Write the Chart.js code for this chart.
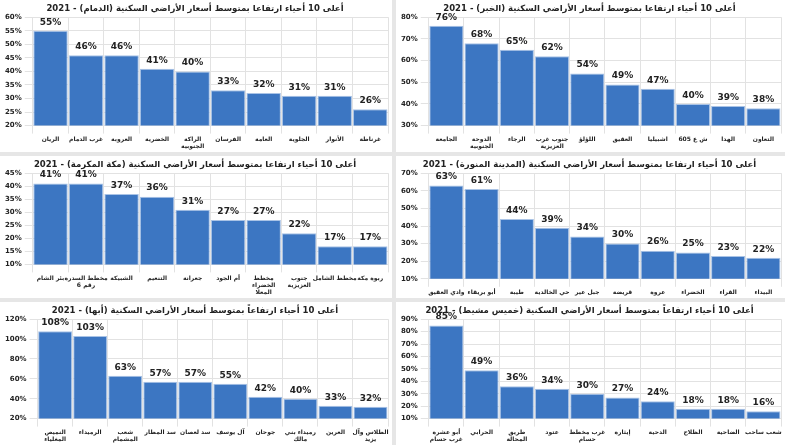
<!DOCTYPE html>
<html>
<head>
<meta charset="utf-8">
<script src="https://cdn.jsdelivr.net/npm/chart.js@4"></script>
<style>
  body { margin: 0; background: #e6e6e6; width: 785px; height: 445px; position: relative; overflow: hidden; }
  .box { position: absolute; background: #fff; }
</style>
</head>
<body>
<div class="box" style="left:0;top:0;width:392px;height:152px"><canvas id="c1"></canvas></div>
<div class="box" style="left:396px;top:0;width:389px;height:152px"><canvas id="c2"></canvas></div>
<div class="box" style="left:0;top:156px;width:392px;height:142px"><canvas id="c3"></canvas></div>
<div class="box" style="left:396px;top:156px;width:389px;height:142px"><canvas id="c4"></canvas></div>
<div class="box" style="left:0;top:302px;width:392px;height:143px"><canvas id="c5"></canvas></div>
<div class="box" style="left:396px;top:302px;width:389px;height:143px"><canvas id="c6"></canvas></div>
<script>
// data for each city
const dammamLabels = ["الريان", "غرب الدمام", "العروبة", "الخضرية", ["الراكة", "الجنوبية"], "الفرسان", "العامة", "الجلوية", "الأنوار", "غرناطة"];
const dammamValues = [55, 46, 46, 41, 40, 33, 32, 31, 31, 26];

const khobarLabels = ["الجامعة", ["الدوحة", "الجنوبية"], "الرجاء", ["جنوب غرب", "العزيزية"], "اللؤلؤ", "العقيق", "اشبيليا", "ش ع 605", "الهدا", "التعاون"];
const khobarValues = [76, 68, 65, 62, 54, 49, 47, 40, 39, 38];

const makkahLabels = ["بئر الشام", ["مخطط السدرة", "رقم 6"], "الشبيكة", "التنعيم", "جعرانة", "أم الجود", ["مخطط", "الخضراء", "المعلا"], ["جنوب", "العزيزية"], "مخطط الشامل", "ربوة مكة"];
const makkahValues = [41, 41, 37, 36, 31, 27, 27, 22, 17, 17];

const madinahLabels = ["وادي العقيق", "أبو بريقاء", "طيبة", "حي الخالدية", "جبل عير", "قريضة", "عروة", "الخضراء", "القراء", "البيداء"];
const madinahValues = [63, 61, 44, 39, 34, 30, 26, 25, 23, 22];

const abhaLabels = [["النميص", "المغلياء"], "الرميداء", ["شعب", "المشمام"], "سد المطار", "سد لعصان", "آل يوسف", "جوحان", ["رميداء بني", "مالك"], "العرين", ["الطلاس وآل", "يزيد"]];
const abhaValues = [108, 103, 63, 57, 57, 55, 42, 40, 33, 32];

const khamisLabels = [["أبو عشرة", "غرب حسام"], "الحرابي", ["طريق", "المحالة"], "عتود", ["غرب مخطط", "حسام"], "إيثارة", "الدحية", "الظلاح", "الضاحية", "شعب ساحب"];
const khamisValues = [85, 49, 36, 34, 30, 27, 24, 18, 18, 16];

const FONT = "'DejaVu Sans', sans-serif";

// draws the % value above each bar
const valueLabels = {
  id: "valueLabels",
  afterDatasetsDraw(chart) {
    const ctx = chart.ctx;
    const meta = chart.getDatasetMeta(0);
    ctx.save();
    ctx.font = "bold 9px " + FONT;
    ctx.fillStyle = "#222";
    ctx.textAlign = "center";
    ctx.textBaseline = "bottom";
    meta.data.forEach((bar, i) => {
      ctx.fillText(chart.data.datasets[0].data[i] + "%", bar.x, Math.max(bar.y - 4, 12));
    });
    ctx.restore();
  }
};

function makeChart(id, title, labels, values, min, max, step) {
  new Chart(document.getElementById(id), {
    type: "bar",
    data: {
      labels: labels,
      datasets: [{
        data: values,
        backgroundColor: "#3c76c2",
        borderColor: "#a9c3e6",
        borderWidth: 1,
        barPercentage: 1,
        categoryPercentage: 0.97,
      }],
    },
    options: {
      responsive: true,
      maintainAspectRatio: false,
      animation: false,
      layout: { padding: { left: 2, right: 4, top: 0, bottom: 0 } },
      plugins: {
        legend: { display: false },
        tooltip: { enabled: false },
        title: {
          display: true,
          text: title,
          color: "#222",
          font: { family: FONT, size: 8.5, weight: "bold" },
          padding: { top: 4, bottom: 3 },
        },
      },
      scales: {
        x: {
          grid: { color: "#e2e2e2" },
          border: { color: "#e2e2e2" },
          ticks: { color: "#222", font: { family: FONT, size: 6, weight: "bold" }, maxRotation: 0, autoSkip: false, padding: 2 },
        },
        y: {
          min: min,
          max: max,
          grid: { color: "#e2e2e2" },
          border: { display: false },
          ticks: {
            stepSize: step,
            color: "#222",
            font: { family: FONT, size: 7, weight: "bold" },
            callback: (v) => v + "%",
          },
        },
      },
    },
    plugins: [valueLabels],
  });
}

makeChart("c1", "أعلى 10 أحياء ارتفاعا بمتوسط أسعار الأراضي السكنية (الدمام) - 2021", dammamLabels, dammamValues, 20, 60, 5);
makeChart("c2", "أعلى 10 أحياء ارتفاعا بمتوسط أسعار الأراضي السكنية (الخبر) - 2021", khobarLabels, khobarValues, 30, 80, 5);
makeChart("c3", "أعلى 10 أحياء ارتفاعا بمتوسط أسعار الأراضي السكنية (مكة المكرمة) - 2021", makkahLabels, makkahValues, 10, 45, 5);
makeChart("c4", "أعلى 10 أحياء ارتفاعا بمتوسط أسعار الأراضي السكنية (المدينة المنورة) - 2021", madinahLabels, madinahValues, 10, 70, 10);
makeChart("c5", "أعلى 10 أحياء ارتفاعاً بمتوسط أسعار الأراضي السكنية (أبها) - 2021", abhaLabels, abhaValues, 20, 120, 20);
makeChart("c6", "أعلى 10 أحياء ارتفاعاً بمتوسط أسعار الأراضي السكنية (خميس مشيط) - 2021", khamisLabels, khamisValues, 10, 90, 10);
</script>
</body>
</html>
